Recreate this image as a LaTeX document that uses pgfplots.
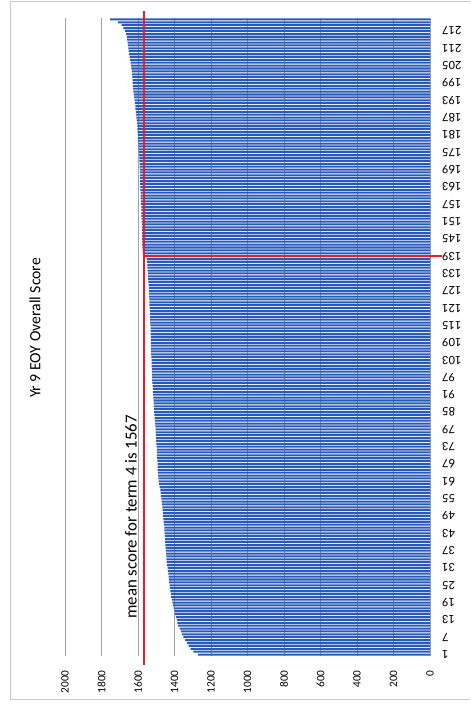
\documentclass[border=0pt]{standalone}
\usepackage{fontspec}
\setmainfont{Carlito}
\usepackage{pgfplots}
\usepackage{pgfplotstable}
\pgfplotsset{compat=1.18}

\definecolor{barblue}{RGB}{40,90,185}
\definecolor{gridgray}{RGB}{160,160,175}
\definecolor{meanred}{RGB}{230,30,40}
\definecolor{framegray}{RGB}{200,200,200}

% Year 9 end-of-year overall scores, sorted, one row per student
\pgfplotstableread[row sep=\\]{
cat score \\
1 1271 \\ 2 1296 \\ 3 1312 \\ 4 1322 \\ 5 1331 \\ 6 1342 \\ 7 1352 \\ 8 1358 \\ 9 1364 \\ 10 1372 \\
11 1380 \\ 12 1384 \\ 13 1387 \\ 14 1392 \\ 15 1396 \\ 16 1399 \\ 17 1403 \\ 18 1408 \\ 19 1412 \\ 20 1415 \\
21 1418 \\ 22 1420 \\ 23 1422 \\ 24 1425 \\ 25 1427 \\ 26 1429 \\ 27 1431 \\ 28 1432 \\ 29 1434 \\ 30 1436 \\
31 1438 \\ 32 1440 \\ 33 1443 \\ 34 1444 \\ 35 1445 \\ 36 1446 \\ 37 1447 \\ 38 1448 \\ 39 1450 \\ 40 1451 \\
41 1452 \\ 42 1453 \\ 43 1454 \\ 44 1455 \\ 45 1456 \\ 46 1458 \\ 47 1459 \\ 48 1461 \\ 49 1462 \\ 50 1464 \\
51 1465 \\ 52 1467 \\ 53 1469 \\ 54 1470 \\ 55 1472 \\ 56 1474 \\ 57 1476 \\ 58 1478 \\ 59 1481 \\ 60 1484 \\
61 1487 \\ 62 1489 \\ 63 1490 \\ 64 1491 \\ 65 1492 \\ 66 1492 \\ 67 1493 \\ 68 1494 \\ 69 1495 \\ 70 1496 \\
71 1497 \\ 72 1497 \\ 73 1498 \\ 74 1499 \\ 75 1500 \\ 76 1501 \\ 77 1502 \\ 78 1503 \\ 79 1504 \\ 80 1505 \\
81 1506 \\ 82 1507 \\ 83 1509 \\ 84 1510 \\ 85 1511 \\ 86 1512 \\ 87 1513 \\ 88 1514 \\ 89 1515 \\ 90 1516 \\
91 1517 \\ 92 1518 \\ 93 1519 \\ 94 1520 \\ 95 1521 \\ 96 1522 \\ 97 1522 \\ 98 1523 \\ 99 1524 \\ 100 1524 \\
101 1525 \\ 102 1526 \\ 103 1526 \\ 104 1527 \\ 105 1528 \\ 106 1528 \\ 107 1529 \\ 108 1529 \\ 109 1530 \\ 110 1530 \\
111 1530 \\ 112 1531 \\ 113 1531 \\ 114 1531 \\ 115 1532 \\ 116 1533 \\ 117 1533 \\ 118 1534 \\ 119 1535 \\ 120 1535 \\
121 1536 \\ 122 1537 \\ 123 1537 \\ 124 1538 \\ 125 1539 \\ 126 1540 \\ 127 1540 \\ 128 1541 \\ 129 1542 \\ 130 1543 \\
131 1544 \\ 132 1545 \\ 133 1546 \\ 134 1547 \\ 135 1548 \\ 136 1549 \\ 137 1551 \\ 138 1553 \\ 139 1570 \\ 140 1573 \\
141 1575 \\ 142 1576 \\ 143 1577 \\ 144 1577 \\ 145 1578 \\ 146 1578 \\ 147 1578 \\ 148 1579 \\ 149 1579 \\ 150 1579 \\
151 1580 \\ 152 1580 \\ 153 1581 \\ 154 1581 \\ 155 1582 \\ 156 1582 \\ 157 1583 \\ 158 1584 \\ 159 1585 \\ 160 1586 \\
161 1586 \\ 162 1587 \\ 163 1587 \\ 164 1588 \\ 165 1588 \\ 166 1589 \\ 167 1589 \\ 168 1590 \\ 169 1590 \\ 170 1591 \\
171 1591 \\ 172 1592 \\ 173 1593 \\ 174 1594 \\ 175 1595 \\ 176 1596 \\ 177 1597 \\ 178 1598 \\ 179 1599 \\ 180 1600 \\
181 1601 \\ 182 1602 \\ 183 1603 \\ 184 1604 \\ 185 1605 \\ 186 1607 \\ 187 1609 \\ 188 1611 \\ 189 1612 \\ 190 1614 \\
191 1615 \\ 192 1617 \\ 193 1619 \\ 194 1621 \\ 195 1623 \\ 196 1625 \\ 197 1627 \\ 198 1628 \\ 199 1629 \\ 200 1630 \\
201 1631 \\ 202 1632 \\ 203 1633 \\ 204 1636 \\ 205 1638 \\ 206 1641 \\ 207 1643 \\ 208 1646 \\ 209 1649 \\ 210 1651 \\
211 1653 \\ 212 1655 \\ 213 1657 \\ 214 1659 \\ 215 1661 \\ 216 1665 \\ 217 1670 \\ 218 1680 \\ 219 1690 \\ 220 1710 \\
221 1753 \\
}\scores

\def\meanscore{1567}

\begin{document}
\begin{tikzpicture}
% page area
\begin{scope}[x=0.75pt,y=0.75pt]
  \useasboundingbox (0,0) rectangle (470,713);
  \fill[white] (0,0) rectangle (470,713);
\end{scope}

\begin{axis}[
  at={(48.75pt,42.75pt)}, anchor=south west,
  scale only axis,
  width=273.75pt, height=478.5pt,
  x dir=reverse,
  xmin=0, xmax=2000,
  ymin=0.5, ymax=221.5,
  xtick={0,200,...,2000},
  ytick={1,7,...,217},
  yticklabel pos=right,
  xmajorgrids,
  major grid style={draw=gridgray, line width=0.7pt},
  axis line style={draw=none},
  major tick length=0pt,
  /pgf/number format/assume math mode=true,
  /pgf/number format/1000 sep={},
  xticklabel style={rotate=90, anchor=east, inner sep=0pt,
    font=\fontsize{8.5}{10}\selectfont},
  xticklabel shift=10.5pt,
  yticklabel style={rotate=180, anchor=east, inner sep=0pt,
    font=\fontsize{9.5}{11}\selectfont},
  yticklabel shift=9pt,
  clip=false,
]
\addplot[xbar, bar width=0.7, fill=barblue, draw=none]
  table[x=score, y=cat] {\scores};
% mean score marker
\draw[meanred, line width=1.5pt]
  (axis cs:\meanscore,-2.6) -- (axis cs:\meanscore,223.9);
\draw[meanred, line width=1.5pt]
  (axis cs:\meanscore,139) -- (axis cs:-66,139);
\end{axis}

\begin{scope}[x=0.75pt,y=0.75pt]
  % outer chart frame
  \draw[framegray, line width=0.75pt] (470,711) -- (10,711) -- (10,13) -- (470,13);
  \node[rotate=90, inner sep=0pt, font=\fontsize{11.8}{14}\selectfont]
    at (35,385) {Yr 9 EOY Overall Score};
  \node[rotate=90, inner sep=0pt, font=\fontsize{12.6}{15}\selectfont]
    at (131,196) {mean score for term 4 is 1567};
\end{scope}
\end{tikzpicture}
\end{document}
